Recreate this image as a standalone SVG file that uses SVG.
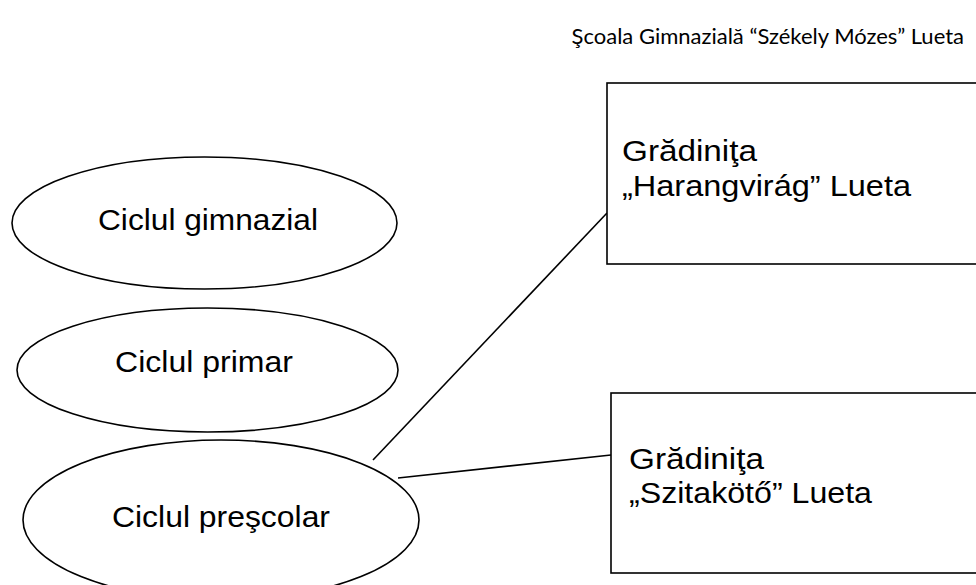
<svg xmlns="http://www.w3.org/2000/svg" width="976" height="585" viewBox="0 0 976 585">
<style>
.shape{fill:#fff;stroke:#000;stroke-width:1.6}
.conn line{stroke:#000;stroke-width:1.6}
.lbl{font-family:"Liberation Sans",Arial,sans-serif;font-size:30px;fill:#000}
.ttl{font-family:Lato,"Open Sans",sans-serif;font-size:22px;fill:#000}
</style>
<rect width="976" height="585" fill="#fff"/>
<g id="title"><text class="ttl" x="964" y="44" text-anchor="end">Şcoala Gimnazială “Székely Mózes” Lueta</text></g>
<g class="conn" id="connectors">
<line x1="373" y1="460" x2="607" y2="213"/>
<line x1="398" y1="478" x2="611" y2="455"/>
</g>
<g id="n-gimnazial"><ellipse class="shape" cx="204.5" cy="223" rx="192.5" ry="66"/><text class="lbl" x="98" y="230" textLength="220" lengthAdjust="spacingAndGlyphs">Ciclul gimnazial</text></g>
<g id="n-primar"><ellipse class="shape" cx="207.5" cy="370" rx="190.5" ry="62"/><text class="lbl" x="115" y="372" textLength="178" lengthAdjust="spacingAndGlyphs">Ciclul primar</text></g>
<g id="n-prescolar"><ellipse class="shape" cx="221" cy="520" rx="198" ry="80"/><text class="lbl" x="112" y="527" textLength="218" lengthAdjust="spacingAndGlyphs">Ciclul preşcolar</text></g>
<g id="n-harangvirag"><rect class="shape" x="607" y="83" width="390" height="181"/><text class="lbl" x="622" y="161" textLength="135" lengthAdjust="spacingAndGlyphs">Grădiniţa</text><text class="lbl" x="622" y="196" textLength="289" lengthAdjust="spacingAndGlyphs">„Harangvirág” Lueta</text></g>
<g id="n-szitakoto"><rect class="shape" x="611" y="393" width="390" height="180"/><text class="lbl" x="629" y="469" textLength="135" lengthAdjust="spacingAndGlyphs">Grădiniţa</text><text class="lbl" x="629" y="503" textLength="243" lengthAdjust="spacingAndGlyphs">„Szitakötő” Lueta</text></g>
</svg>
